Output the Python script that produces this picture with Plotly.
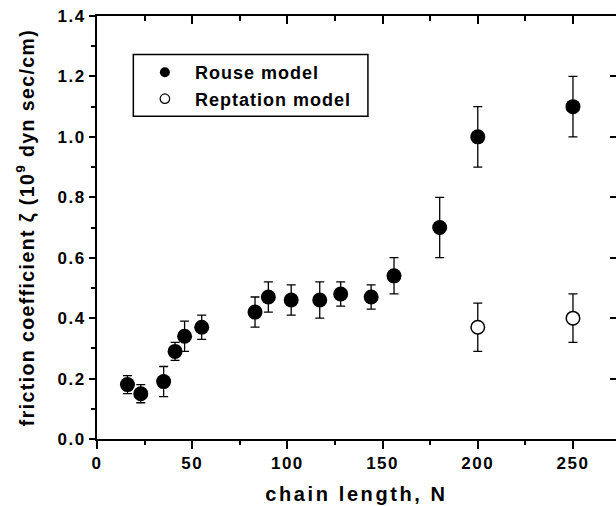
import plotly.graph_objects as go

# ---- data ----
N_rouse = [16, 23, 35, 41, 46, 55, 83, 90, 102, 117, 128, 144, 156, 180, 200, 250]
zeta_rouse = [0.18, 0.15, 0.19, 0.29, 0.34, 0.37, 0.42, 0.47, 0.46, 0.46, 0.48, 0.47, 0.54, 0.70, 1.00, 1.10]
err_rouse = [0.03, 0.03, 0.05, 0.03, 0.05, 0.04, 0.05, 0.05, 0.05, 0.06, 0.04, 0.04, 0.06, 0.10, 0.10, 0.10]

N_rept = [200, 250]
zeta_rept = [0.37, 0.40]
err_rept = [0.08, 0.08]

x_ticks = [0, 50, 100, 150, 200, 250]
y_ticks = [0.0, 0.2, 0.4, 0.6, 0.8, 1.0, 1.2, 1.4]

FONT = "Liberation Sans, Arial, sans-serif"
X_RANGE = [0, 272.6]
Y_RANGE = [0, 1.4]

fig = go.Figure()

err_style = dict(type="data", thickness=1.3, width=4.5, color="black")

fig.add_trace(go.Scatter(
    x=N_rouse, y=zeta_rouse, mode="markers", showlegend=False,
    error_y=dict(array=err_rouse, **err_style),
    marker=dict(symbol="circle", size=15, color="black", line=dict(width=0)),
))
fig.add_trace(go.Scatter(
    x=N_rept, y=zeta_rept, mode="markers", showlegend=False,
    error_y=dict(array=err_rept, **err_style),
    marker=dict(symbol="circle", size=13.5, color="white", line=dict(width=1.5, color="black")),
))

# legend entries
fig.add_trace(go.Scatter(
    x=[None], y=[None], mode="markers",
    name='<span style="letter-spacing:1px">Rouse model</span>', legendgroup="a",
    marker=dict(symbol="circle", size=10, color="black", line=dict(width=0)),
))
fig.add_trace(go.Scatter(
    x=[None], y=[None], mode="markers",
    name='<span style="letter-spacing:1px">Reptation model</span>', legendgroup="b",
    marker=dict(symbol="circle", size=9.5, color="white", line=dict(width=1.2, color="black")),
))

# invisible trace to host the mirrored top/right axes
fig.add_trace(go.Scatter(x=[None], y=[None], xaxis="x2", yaxis="y2",
                         showlegend=False, hoverinfo="skip"))

tick_font = dict(family=FONT, size=17, color="black", weight="bold")

fig.update_layout(
    width=616, height=506,
    margin=dict(l=97, r=0, t=16, b=67),
    paper_bgcolor="white", plot_bgcolor="white",
    font=dict(family=FONT, color="black"),
    xaxis=dict(
        range=X_RANGE, showgrid=False, zeroline=False,
        showline=True, linewidth=2, linecolor="black",
        tickmode="array", tickvals=x_ticks,
        ticktext=[f'<span style="letter-spacing:1.5px">{v}</span>' for v in x_ticks],
        ticks="outside", ticklen=8, tickwidth=1.6, tickcolor="black",
        minor=dict(dtick=25, tick0=0, ticks="outside", ticklen=4, tickwidth=1.6, tickcolor="black"),
        tickfont=tick_font,
        title=dict(text='<span style="letter-spacing:2.6px">chain length, N</span>',
                   font=dict(family=FONT, size=20, color="black", weight="bold"), standoff=15),
    ),
    yaxis=dict(
        range=Y_RANGE, showgrid=False, zeroline=False,
        showline=True, linewidth=2, linecolor="black",
        tickmode="array", tickvals=y_ticks,
        ticktext=[f'<span style="letter-spacing:1.5px">{v:.1f}</span>' for v in y_ticks],
        ticks="outside", ticklen=6, tickwidth=1.6, tickcolor="black",
        minor=dict(dtick=0.1, tick0=0, ticks="outside", ticklen=4, tickwidth=1.6, tickcolor="black"),
        tickfont=tick_font,
        title=dict(text='<span style="letter-spacing:1.4px">friction coefficient ζ (10<sup>9</sup> dyn sec/cm)</span>',
                   font=dict(family=FONT, size=19.5, color="black", weight="bold"), standoff=18),
    ),
    xaxis2=dict(
        overlaying="x", side="top", range=X_RANGE, showgrid=False, zeroline=False,
        showline=True, linewidth=2, linecolor="black", showticklabels=False,
        tickmode="linear", tick0=0, dtick=50,
        ticks="inside", ticklen=8, tickwidth=1.6, tickcolor="black",
        minor=dict(dtick=25, tick0=0, ticks="inside", ticklen=5, tickwidth=1.6, tickcolor="black"),
    ),
    yaxis2=dict(
        overlaying="y", side="right", range=Y_RANGE, showgrid=False, zeroline=False,
        showline=False, showticklabels=False,
        tickmode="linear", tick0=0, dtick=0.2,
        ticks="inside", ticklen=6, tickwidth=1.6, tickcolor="black",
    ),
    legend=dict(
        x=0.073, y=0.91, xanchor="left", yanchor="top",
        bgcolor="rgba(0,0,0,0)", borderwidth=0,
        itemwidth=50, tracegroupgap=0,
        font=dict(family=FONT, size=18, color="black", weight="bold"),
    ),
    shapes=[dict(type="rect", xref="paper", yref="paper",
                 x0=0.070, x1=0.522, y0=0.763, y1=0.909,
                 line=dict(color="black", width=1.5), fillcolor="rgba(0,0,0,0)")],
)

fig.write_html("out.html")
